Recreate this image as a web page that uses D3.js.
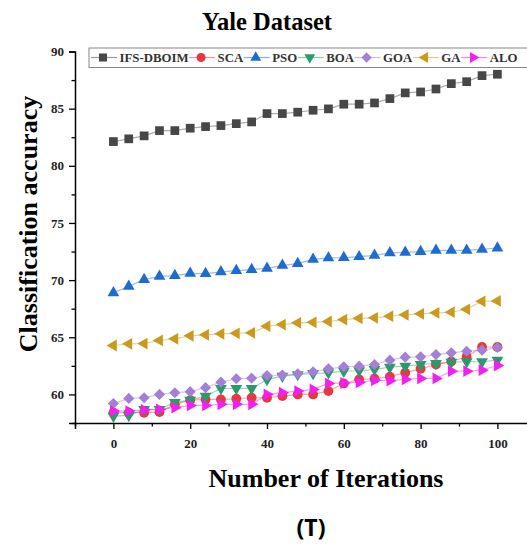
<!DOCTYPE html>
<html><head><meta charset="utf-8">
<script src="https://cdn.jsdelivr.net/npm/d3@7"></script>
<style>body{margin:0;background:#fff;} svg{display:block;}</style>
</head><body>
<svg id="chart" width="527" height="545"></svg>
<script>
const iterations = [0,4,8,12,16,20,24,28,32,36,40,44,48,52,56,60,64,68,72,76,80,84,88,92,96,100];
const seriesNames = ["IFS-DBOIM","SCA","PSO","BOA","GOA","GA","ALO"];
const ifsDboim = [82.12,82.36,82.62,83.08,83.08,83.29,83.43,83.52,83.69,83.84,84.57,84.57,84.69,84.86,84.98,85.39,85.39,85.50,85.88,86.38,86.46,86.72,87.19,87.36,87.89,88.01];
const sca = [58.40,58.40,58.40,58.45,59.13,59.50,59.56,59.56,59.62,59.71,59.71,59.85,60.00,60.00,60.29,60.96,61.31,61.37,61.55,61.90,62.24,62.62,62.88,63.29,64.15,64.15];
const pso = [68.88,69.46,70.04,70.33,70.39,70.59,70.57,70.72,70.83,70.92,71.03,71.29,71.44,71.82,71.94,71.97,72.05,72.17,72.38,72.43,72.49,72.60,72.60,72.60,72.69,72.81];
const boa = [58.10,58.17,58.69,58.69,59.30,59.50,59.85,60.52,60.52,60.52,61.30,61.60,61.74,61.83,61.89,62.03,62.07,62.18,62.38,62.47,62.62,62.71,62.82,62.86,62.86,63.00];
const goa = [59.21,59.65,59.71,60.00,60.15,60.24,60.59,61.07,61.37,61.42,61.66,61.69,61.80,61.98,62.24,62.42,62.47,62.62,63.00,63.26,63.29,63.49,63.64,63.78,63.87,64.10];
const ga = [64.28,64.43,64.45,64.72,64.86,65.13,65.21,65.30,65.35,65.39,65.97,66.11,66.26,66.31,66.38,66.55,66.66,66.70,66.84,66.96,67.05,67.14,67.19,67.45,68.15,68.18];
const alo = [58.54,58.54,58.65,58.69,58.84,59.04,59.04,59.13,59.13,59.13,60.00,60.15,60.29,60.44,60.96,61.00,61.05,61.24,61.20,61.31,61.40,61.40,62.03,62.03,62.12,62.53];
const yMajorTicks = [60,65,70,75,80,85,90];
const yMinorTicks = [57.5,62.5,67.5,72.5,77.5,82.5,87.5];
const xMajorTicks = [0,20,40,60,80,100];
const xMinorTicks = [-10,10,30,50,70,90,110];

const seriesValues = [ifsDboim, sca, pso, boa, goa, ga, alo];
const colors = ["#474747","#e6393f","#1f6cd0","#2b9a6b","#a47fd6","#c99a1d","#f21ff0"];
const shapes = [
  {type:d3.symbolSquare, size:76, rot:0},
  {type:d3.symbolCircle, size:76, rot:0},
  {type:d3.symbolTriangle, size:60, rot:0},
  {type:d3.symbolTriangle, size:60, rot:180},
  {type:d3.symbolSquare, size:62, rot:45},
  {type:d3.symbolTriangle, size:60, rot:-90},
  {type:d3.symbolTriangle, size:60, rot:90}
];

const svg = d3.select("#chart");
const serif = "'Liberation Serif','Times New Roman',serif";

const x = d3.scaleLinear().domain([-10,110]).range([75,535.8]);
const y = d3.scaleLinear().domain([57.5,90]).range([423,51.5]);

// Title
svg.append("text").attr("x",267).attr("y",30).attr("text-anchor","middle")
  .attr("font-family",serif).attr("font-weight","bold").attr("font-size",24.5).text("Yale Dataset");

// Axes
svg.append("g").attr("transform","translate(75,0)")
  .call(d3.axisLeft(y).tickValues(yMajorTicks).tickSize(6).tickPadding(5).tickFormat(d3.format("d")));
svg.append("g").attr("transform","translate(75,0)")
  .call(d3.axisLeft(y).tickValues(yMinorTicks).tickSize(3.5).tickFormat("")).select(".domain").remove();
svg.append("g").attr("transform","translate(0,423)")
  .call(d3.axisBottom(x).tickValues(xMajorTicks).tickSize(6).tickPadding(10).tickFormat(d3.format("d")));
svg.append("g").attr("transform","translate(0,423)")
  .call(d3.axisBottom(x).tickValues(xMinorTicks).tickSize(3.5).tickFormat("")).select(".domain").remove();
svg.selectAll(".domain").attr("stroke","#000").attr("stroke-width",1.5);
svg.selectAll(".tick line").attr("stroke","#000").attr("stroke-width",1.3);
svg.selectAll(".tick text").attr("font-family",serif).attr("font-weight","bold").attr("font-size",13).attr("fill","#222");

// Axis titles
svg.append("text").attr("transform","translate(37,224) rotate(-90)").attr("text-anchor","middle")
  .attr("font-family",serif).attr("font-weight","bold").attr("font-size",26).text("Classification accuracy");
svg.append("text").attr("x",326).attr("y",487).attr("text-anchor","middle")
  .attr("font-family",serif).attr("font-weight","bold").attr("font-size",26).text("Number of Iterations");
svg.append("text").attr("x",311).attr("y",536).attr("text-anchor","middle")
  .attr("font-family","'Open Sans','Liberation Sans',Arial,sans-serif").attr("font-weight","bold").attr("font-size",23).text("(T)");

// Series
const line = d3.line().x((d,i)=>x(iterations[i])).y(d=>y(d));
seriesValues.forEach((vals,si)=>{
  const g = svg.append("g");
  g.append("path").attr("d",line(vals)).attr("fill","none")
    .attr("stroke",colors[si]).attr("stroke-opacity",0.45).attr("stroke-width",1.2);
  const sym = d3.symbol().type(shapes[si].type).size(shapes[si].size);
  g.selectAll("path.m").data(vals).join("path").attr("class","m")
    .attr("d",sym)
    .attr("transform",(d,i)=>`translate(${x(iterations[i])},${y(d)}) rotate(${shapes[si].rot})`)
    .attr("fill",colors[si]);
});

// Legend
const lg = svg.append("g");
lg.append("rect").attr("x",89).attr("y",48).attr("width",460).attr("height",19.5)
  .attr("fill","#fff").attr("stroke","#888").attr("stroke-width",1);
let cx = 91;
seriesNames.forEach((name,si)=>{
  const ly = 57.5;
  lg.append("line").attr("x1",cx).attr("x2",cx+26).attr("y1",ly).attr("y2",ly)
    .attr("stroke",colors[si]).attr("stroke-opacity",0.55).attr("stroke-width",1.2);
  const sym = d3.symbol().type(shapes[si].type).size(shapes[si].size*0.85);
  lg.append("path").attr("d",sym).attr("transform",`translate(${cx+12},${ly}) rotate(${shapes[si].rot})`).attr("fill",colors[si]);
  const t = lg.append("text").attr("x",cx+28.5).attr("y",ly+4.5).attr("font-family",serif)
    .attr("font-weight","bold").attr("font-size",12.8).attr("fill","#333").text(name);
  cx = cx + 28.5 + t.node().getComputedTextLength() + 0.6;
});
</script>
</body></html>
